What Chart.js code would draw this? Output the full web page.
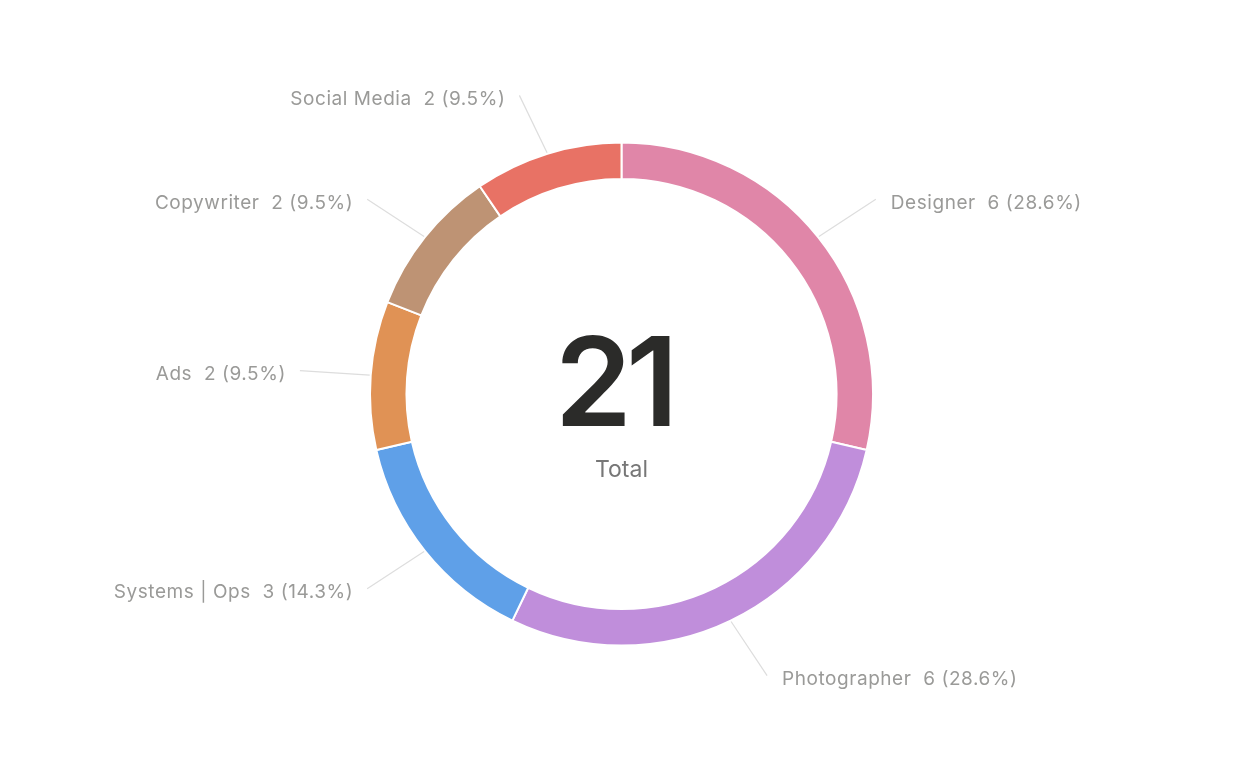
<!DOCTYPE html>
<html>
<head>
<meta charset="utf-8">
<script src="https://cdn.jsdelivr.net/npm/chart.js@4.4.1/dist/chart.umd.min.js"></script>
<style>
  html, body { margin: 0; padding: 0; background: #ffffff; }
  #wrap { width: 1244px; height: 762px; position: relative; }
</style>
</head>
<body>
<div id="wrap"><canvas id="roleChart" width="1244" height="762"></canvas></div>
<script>
// Team roles (clockwise from top)
const roleLabels = ['Designer', 'Photographer', 'Systems | Ops', 'Ads', 'Copywriter', 'Social Media'];
const roleCounts = [6, 6, 3, 2, 2, 2];
const roleColors = ['#e086a8', '#c08edb', '#5fa0e8', '#e09255', '#be9374', '#e87265'];

const FONT = "Inter, 'Helvetica Neue', Arial, sans-serif";
const total = roleCounts.reduce((a, b) => a + b, 0);

// Center "21 / Total" text
const centerText = {
    id: 'centerText',
    afterDraw(chart) {
        const { ctx } = chart;
        const arc = chart.getDatasetMeta(0).data[0];
        if (!arc) return;
        ctx.save();
        ctx.textAlign = 'center';
        ctx.textBaseline = 'alphabetic';
        ctx.fillStyle = '#2b2b29';
        ctx.font = `600 124px ${FONT}`;
        ctx.letterSpacing = '-6px';
        ctx.fillText(String(total), arc.x - 8, 426);
        ctx.letterSpacing = '0px';
        ctx.fillStyle = '#777777';
        ctx.font = `400 23px ${FONT}`;
        ctx.fillText('Total', arc.x, 477);
        ctx.restore();
    }
};

// Leader lines + outside labels
const outsideLabels = {
    id: 'outsideLabels',
    afterDraw(chart) {
        const { ctx } = chart;
        const arcs = chart.getDatasetMeta(0).data;
        ctx.save();
        ctx.font = `400 19px ${FONT}`;
        ctx.letterSpacing = '0.55px';
        ctx.textBaseline = 'alphabetic';
        arcs.forEach((arc, i) => {
            const mid = (arc.startAngle + arc.endAngle) / 2;
            const right = Math.cos(mid) >= 0;
            const side = right ? 1 : -1;
            const r0 = arc.outerRadius + 1;
            const r1 = arc.outerRadius + 61;
            const x0 = arc.x + Math.cos(mid) * r0;
            const y0 = arc.y + Math.sin(mid) * r0;
            // end point pushed 10px sideways toward the label
            const x1 = arc.x + Math.cos(mid) * r1 + side * 10;
            const y1 = arc.y + Math.sin(mid) * r1;
            ctx.strokeStyle = '#dddddd';
            ctx.lineWidth = 1.2;
            ctx.beginPath();
            ctx.moveTo(x0, y0);
            ctx.lineTo(x1, y1);
            ctx.stroke();

            const pct = (roleCounts[i] / total * 100).toFixed(1);
            const text = `${roleLabels[i]}  ${roleCounts[i]} (${pct}%)`;
            ctx.fillStyle = '#9a9a98';
            ctx.textAlign = right ? 'left' : 'right';
            ctx.fillText(text, x1 + (right ? 15 : -14), y1 + 9.5);
        });
        ctx.restore();
    }
};

const ctx = document.getElementById('roleChart').getContext('2d');
const roleChart = new Chart(ctx, {
    type: 'doughnut',
    data: {
        labels: roleLabels,
        datasets: [{
            data: roleCounts,
            backgroundColor: roleColors,
            borderColor: '#ffffff',
            borderWidth: 2,
            hoverOffset: 0
        }]
    },
    options: {
        responsive: false,
        animation: false,
        cutout: '85.5%',
        layout: { padding: { top: 141, bottom: 115, left: 369, right: 370 } },
        plugins: {
            legend: { display: false },
            tooltip: { enabled: false }
        }
    },
    plugins: [centerText, outsideLabels]
});
</script>
</body>
</html>
